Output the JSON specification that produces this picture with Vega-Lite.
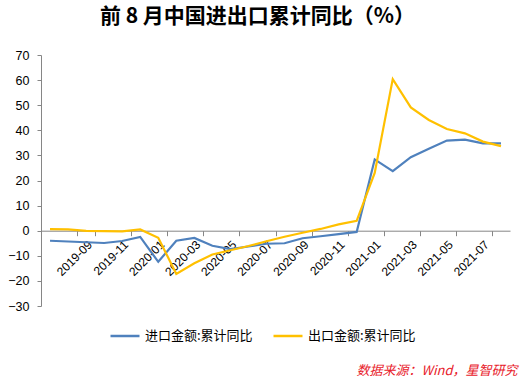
{
  "$schema": "https://vega.github.io/schema/vega-lite/v6.json",
  "width": 469,
  "height": 251,
  "autosize": {"type": "none"},
  "padding": {"left": 41, "top": 55, "right": 12, "bottom": 72},
  "background": "white",
  "title": {
    "text": "前 8 月中国进出口累计同比（%）",
    "font": "Noto Sans CJK SC",
    "fontSize": 21,
    "fontWeight": "bold",
    "color": "#000000",
    "anchor": "middle",
    "frame": "group",
    "baseline": "alphabetic",
    "offset": 5,
    "dx": -18
  },
  "config": {"view": {"stroke": null}},
  "data": {
    "values": [
      {"month": "2019-07", "series": "进口金额:累计同比", "value": -4.0},
      {"month": "2019-08", "series": "进口金额:累计同比", "value": -4.3},
      {"month": "2019-09", "series": "进口金额:累计同比", "value": -4.6},
      {"month": "2019-10", "series": "进口金额:累计同比", "value": -4.9},
      {"month": "2019-11", "series": "进口金额:累计同比", "value": -4.1},
      {"month": "2019-12", "series": "进口金额:累计同比", "value": -2.5},
      {"month": "2020-01", "series": "进口金额:累计同比", "value": -12.4},
      {"month": "2020-02", "series": "进口金额:累计同比", "value": -4.0},
      {"month": "2020-03", "series": "进口金额:累计同比", "value": -2.9},
      {"month": "2020-04", "series": "进口金额:累计同比", "value": -6.0},
      {"month": "2020-05", "series": "进口金额:累计同比", "value": -7.3},
      {"month": "2020-06", "series": "进口金额:累计同比", "value": -6.3},
      {"month": "2020-07", "series": "进口金额:累计同比", "value": -5.2},
      {"month": "2020-08", "series": "进口金额:累计同比", "value": -5.0},
      {"month": "2020-09", "series": "进口金额:累计同比", "value": -3.0},
      {"month": "2020-10", "series": "进口金额:累计同比", "value": -2.2},
      {"month": "2020-11", "series": "进口金额:累计同比", "value": -1.4},
      {"month": "2020-12", "series": "进口金额:累计同比", "value": -0.5},
      {"month": "2021-01", "series": "进口金额:累计同比", "value": 28.4},
      {"month": "2021-02", "series": "进口金额:累计同比", "value": 23.7},
      {"month": "2021-03", "series": "进口金额:累计同比", "value": 29.3},
      {"month": "2021-04", "series": "进口金额:累计同比", "value": 32.6},
      {"month": "2021-05", "series": "进口金额:累计同比", "value": 35.9},
      {"month": "2021-06", "series": "进口金额:累计同比", "value": 36.3},
      {"month": "2021-07", "series": "进口金额:累计同比", "value": 34.8},
      {"month": "2021-08", "series": "进口金额:累计同比", "value": 34.8},
      {"month": "2019-07", "series": "出口金额:累计同比", "value": 0.6},
      {"month": "2019-08", "series": "出口金额:累计同比", "value": 0.5},
      {"month": "2019-09", "series": "出口金额:累计同比", "value": -0.1},
      {"month": "2019-10", "series": "出口金额:累计同比", "value": -0.2},
      {"month": "2019-11", "series": "出口金额:累计同比", "value": -0.3},
      {"month": "2019-12", "series": "出口金额:累计同比", "value": 0.5},
      {"month": "2020-01", "series": "出口金额:累计同比", "value": -2.8},
      {"month": "2020-02", "series": "出口金额:累计同比", "value": -17.2},
      {"month": "2020-03", "series": "出口金额:累计同比", "value": -13.0},
      {"month": "2020-04", "series": "出口金额:累计同比", "value": -9.5},
      {"month": "2020-05", "series": "出口金额:累计同比", "value": -7.8},
      {"month": "2020-06", "series": "出口金额:累计同比", "value": -6.1},
      {"month": "2020-07", "series": "出口金额:累计同比", "value": -4.2},
      {"month": "2020-08", "series": "出口金额:累计同比", "value": -2.4},
      {"month": "2020-09", "series": "出口金额:累计同比", "value": -0.8},
      {"month": "2020-10", "series": "出口金额:累计同比", "value": 0.7},
      {"month": "2020-11", "series": "出口金额:累计同比", "value": 2.5},
      {"month": "2020-12", "series": "出口金额:累计同比", "value": 3.9},
      {"month": "2021-01", "series": "出口金额:累计同比", "value": 23.0},
      {"month": "2021-02", "series": "出口金额:累计同比", "value": 60.4},
      {"month": "2021-03", "series": "出口金额:累计同比", "value": 49.1},
      {"month": "2021-04", "series": "出口金额:累计同比", "value": 44.1},
      {"month": "2021-05", "series": "出口金额:累计同比", "value": 40.5},
      {"month": "2021-06", "series": "出口金额:累计同比", "value": 38.8},
      {"month": "2021-07", "series": "出口金额:累计同比", "value": 35.5},
      {"month": "2021-08", "series": "出口金额:累计同比", "value": 33.7}
    ]
  },
  "mark": {"type": "line", "strokeWidth": 2.2},
  "encoding": {
    "x": {
      "field": "month",
      "type": "ordinal",
      "scale": {"type": "band", "paddingInner": 0, "paddingOuter": 0},
      "axis": {
        "title": "数据来源：Wind，星智研究",
        "titleFont": "Noto Sans CJK SC",
        "titleFontSize": 13,
        "titleFontStyle": "italic",
        "titleFontWeight": "normal",
        "titleColor": "#e8202a",
        "titleX": 476,
        "titleY": 144,
        "titleAlign": "right",
        "titleBaseline": "alphabetic",
        "offset": -75.3,
        "values": ["2019-07", "2019-07", "2019-09", "2019-11", "2020-01", "2020-03", "2020-05", "2020-07", "2020-09", "2020-11", "2021-01", "2021-03", "2021-05", "2021-07"],
        "tickBand": "extent",
        "labelAngle": -45,
        "labelAlign": "right",
        "labelBaseline": "top",
        "labelFont": "Liberation Sans",
        "labelFontSize": 12,
        "labelColor": "#000000",
        "labelPadding": 3,
        "labelOverlap": false,
        "labelBound": false,
        "labelFlush": false,
        "domainColor": "#868686",
        "tickColor": "#868686",
        "tickSize": 5,
        "grid": false
      }
    },
    "y": {
      "field": "value",
      "type": "quantitative",
      "scale": {"domain": [-30, 70], "nice": false, "zero": false},
      "axis": {
        "title": null,
        "values": [-30, -20, -10, 0, 10, 20, 30, 40, 50, 60, 70],
        "domainColor": "#868686",
        "tickColor": "#868686",
        "tickSize": 4,
        "labelPadding": 8,
        "labelFont": "Liberation Sans",
        "labelFontSize": 12.5,
        "labelColor": "#000000",
        "grid": false
      }
    },
    "color": {
      "field": "series",
      "type": "nominal",
      "scale": {"domain": ["进口金额:累计同比", "出口金额:累计同比"], "range": ["#4F81BD", "#FFC000"]},
      "legend": {
        "orient": "none",
        "legendX": 68,
        "legendY": 265,
        "direction": "horizontal",
        "title": null,
        "symbolType": "stroke",
        "symbolSize": 841,
        "symbolStrokeWidth": 2.5,
        "labelFont": "Noto Sans CJK SC",
        "labelFontSize": 13,
        "labelColor": "#000000",
        "labelOffset": 4,
        "columnPadding": 15,
        "labelLimit": 300
      }
    }
  }
}
